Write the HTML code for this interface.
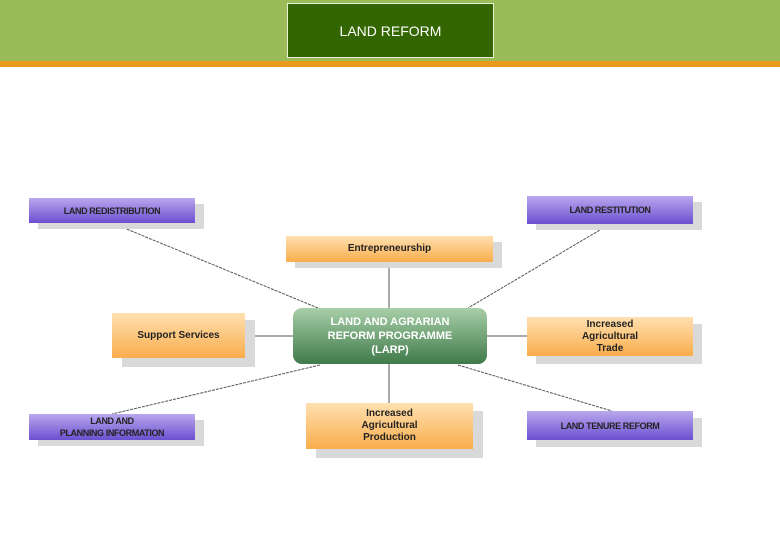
<!DOCTYPE html>
<html><head><style>
body{margin:0;width:780px;height:540px;background:#fff;position:relative;font-family:"Liberation Sans",sans-serif;overflow:hidden}
.b{position:absolute;display:flex;align-items:center;justify-content:center;text-align:center;font-size:10px;font-weight:bold;color:#222;line-height:12px}
.sh{position:absolute;background:#d9d9d9}
.p{background:linear-gradient(#b9a8ee,#6a4fd0);color:#222;font-size:9px;letter-spacing:-0.4px}
.o{background:linear-gradient(#ffe0b0,#f9ad4c)}
</style></head><body>
<div style="position:absolute;left:0;top:0;width:780px;height:61px;background:#9bbb59"></div>
<div style="position:absolute;left:0;top:61px;width:780px;height:6px;background:#e99a1c"></div>
<div style="position:absolute;left:287px;top:3px;width:205px;height:53px;background:#336600;border:1px solid #e8f0d8;color:#fff;font-size:14px;display:flex;align-items:center;justify-content:center">LAND REFORM</div>
<svg width="780" height="540" style="position:absolute;left:0;top:0">
<g stroke="#555" stroke-width="1" fill="none">
<line x1="112" y1="223" x2="318" y2="308" stroke-dasharray="3,1"/>
<line x1="610" y1="224" x2="468" y2="308" stroke-dasharray="3,1"/>
<line x1="389" y1="262" x2="389" y2="308"/>
<line x1="245" y1="336" x2="293" y2="336"/>
<line x1="487" y1="336" x2="527" y2="336"/>
<line x1="320" y1="365" x2="112" y2="414" stroke-dasharray="3,1"/>
<line x1="458" y1="365" x2="612" y2="411" stroke-dasharray="3,1"/>
<line x1="389" y1="364" x2="389" y2="403"/>
</g></svg>
<div class="sh" style="left:38px;top:204px;width:166px;height:25px"></div>
<div class="b p" style="left:29px;top:198px;width:166px;height:25px">LAND REDISTRIBUTION</div>
<div class="sh" style="left:536px;top:202px;width:166px;height:28px"></div>
<div class="b p" style="left:527px;top:196px;width:166px;height:28px">LAND RESTITUTION</div>
<div class="sh" style="left:295px;top:242px;width:207px;height:26px"></div>
<div class="b o" style="left:286px;top:236px;width:207px;height:26px">Entrepreneurship</div>
<div class="sh" style="left:122px;top:320px;width:133px;height:47px"></div>
<div class="b o" style="left:112px;top:313px;width:133px;height:45px">Support Services</div>
<div class="sh" style="left:536px;top:324px;width:166px;height:40px"></div>
<div class="b o" style="left:527px;top:317px;width:166px;height:39px">Increased<br>Agricultural<br>Trade</div>
<div class="b" style="left:293px;top:308px;width:194px;height:56px;border-radius:9px;background:linear-gradient(#a8cfa8,#3f7a4a);color:#fff;font-size:11px;line-height:14px">LAND AND AGRARIAN<br>REFORM PROGRAMME<br>(LARP)</div>
<div class="sh" style="left:38px;top:420px;width:166px;height:26px"></div>
<div class="b p" style="left:29px;top:414px;width:166px;height:26px">LAND AND<br>PLANNING INFORMATION</div>
<div class="sh" style="left:316px;top:411px;width:167px;height:47px"></div>
<div class="b o" style="left:306px;top:403px;width:167px;height:46px">Increased<br>Agricultural<br>Production</div>
<div class="sh" style="left:536px;top:418px;width:166px;height:29px"></div>
<div class="b p" style="left:527px;top:411px;width:166px;height:29px">LAND TENURE REFORM</div>
</body></html>
